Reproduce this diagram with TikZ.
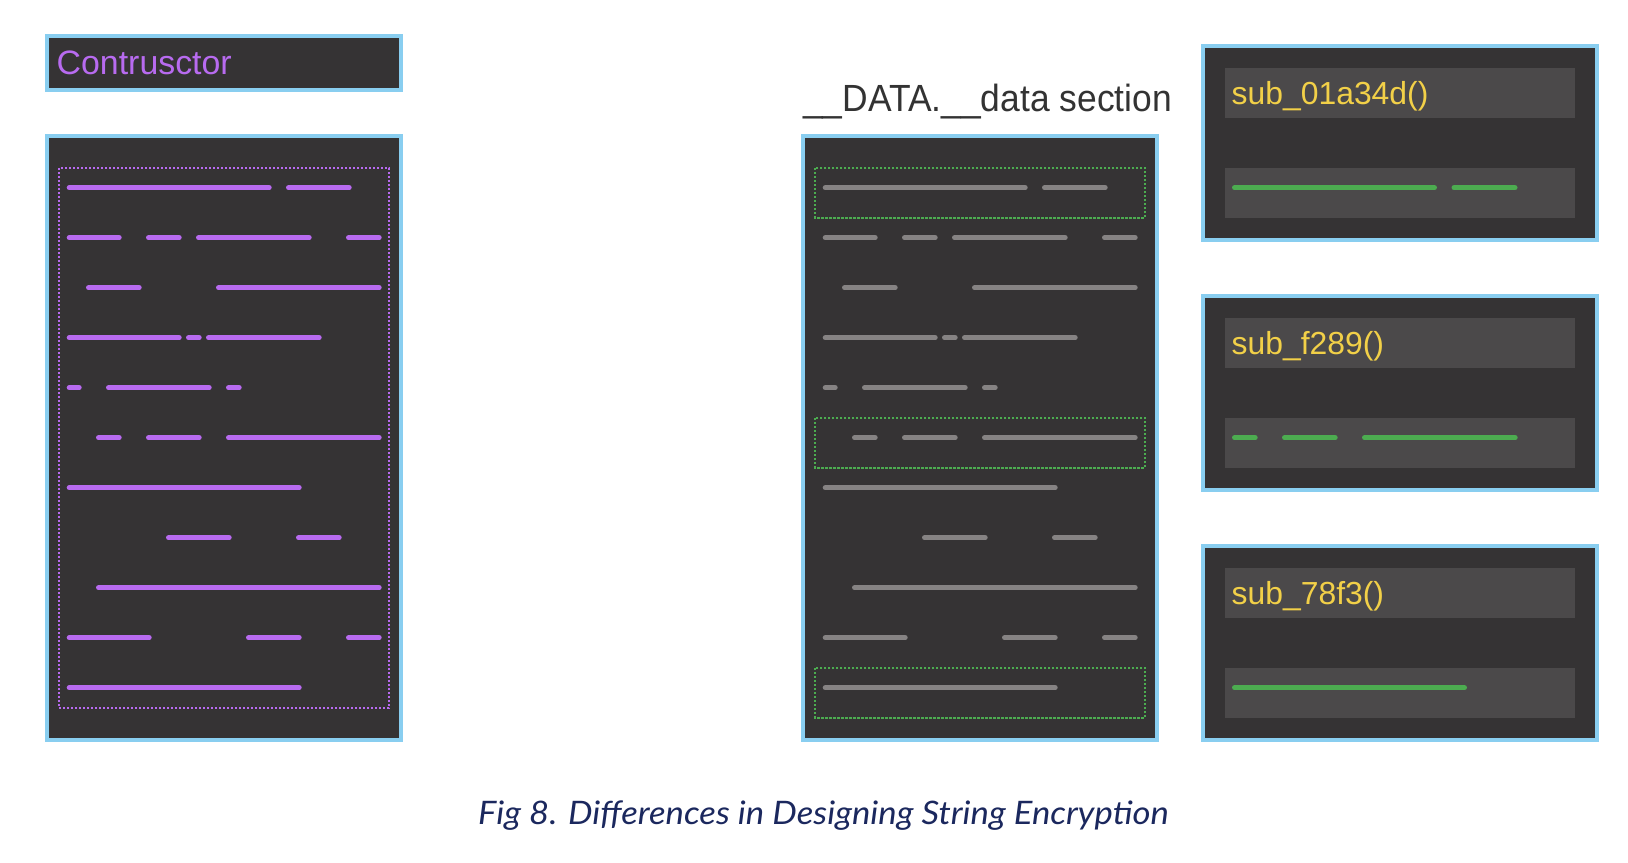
\documentclass[tikz,border=0pt]{standalone}
\usepackage{graphicx}
\usepackage{fontspec}
\setmainfont{Liberation Sans}
\newfontfamily\capfont{Lato}
\definecolor{skyb}{RGB}{137,206,240}
\definecolor{panelbg}{RGB}{53,51,52}
\definecolor{innerbg}{RGB}{75,73,74}
\definecolor{purp}{RGB}{184,107,240}
\definecolor{grayl}{RGB}{134,131,131}
\definecolor{greenl}{RGB}{76,172,80}
\definecolor{yell}{RGB}{242,208,72}
\definecolor{navy}{RGB}{27,40,94}
\definecolor{darktxt}{RGB}{51,51,51}
\begin{document}
\begin{tikzpicture}[x=1bp,y=-1bp,
  panel/.style={draw=skyb,line width=4bp,fill=panelbg},
  innerbox/.style={fill=innerbg},
  seg/.style={line width=5.3bp,line cap=round,shorten >=2.65bp,shorten <=2.65bp},
  pseg/.style={seg,draw=purp},
  gseg/.style={seg,draw=grayl},
  nseg/.style={seg,draw=greenl},
  pdash/.style={draw=purp,line width=1.8bp,dash pattern=on 2.2bp off 1.8bp},
  gdash/.style={draw=greenl,line width=1.8bp,dash pattern=on 2.2bp off 1.8bp},
  lbl/.style={inner sep=0pt,anchor=base west},
  subtxt/.style={lbl,text=yell,font=\fontsize{32}{38}\selectfont}]
\useasboundingbox[fill=white] (0,0) rectangle (1628,862);

% Constructor title box
\draw[panel] (47,36) rectangle (401,90);
\node[lbl,text=purp,font=\fontsize{34}{40}\selectfont] (ctor) at (56.5,74.3) {Contrusctor};

% left and middle panels
\draw[panel] (47,136) rectangle (401,739.7);
\draw[panel] (803,136) rectangle (1157,739.7);
\draw[pdash] (59,168) rectangle (389,708);
\draw[gdash] (815,168) rectangle (1145,217.7);
\draw[gdash] (815,418) rectangle (1145,467.7);
\draw[gdash] (815,668) rectangle (1145,717.7);

\def\allsegs{187.7/66.7/271.7, 187.7/286/351.7,
  237.7/66.7/121.7, 237.7/146/181.7, 237.7/196/311.7, 237.7/346/381.7,
  287.7/86/141.7, 287.7/216/381.7,
  337.7/66.7/181.7, 337.7/186/201.7, 337.7/206/321.7,
  387.7/66.7/81.7, 387.7/106/211.7, 387.7/226/241.7,
  437.7/96/121.7, 437.7/146/201.7, 437.7/226/381.7,
  487.7/66.7/301.7,
  537.7/166/231.7, 537.7/296/341.7,
  587.7/96/381.7,
  637.7/66.7/151.7, 637.7/246/301.7, 637.7/346/381.7,
  687.7/66.7/301.7}
\foreach \yy/\aa/\bb in \allsegs {
  \draw[pseg] (\aa,\yy) -- (\bb,\yy);
  \draw[gseg] (\aa+756,\yy) -- (\bb+756,\yy);
}

\node[inner sep=0pt,anchor=base,text=darktxt] (datasec) at (987.5,111.7)
  {\fontsize{38}{46}\selectfont\scalebox{0.935}[1]{\_\_DATA.\_\_data section}};

% right boxes
\draw[panel] (1203,46) rectangle (1597,239.7);
\fill[innerbox] (1225,68) rectangle (1575,117.7);
\fill[innerbox] (1225,167.7) rectangle (1575,217.7);
\node[subtxt] (s1) at (1231.5,104.7) {sub\_01a34d()};
\draw[nseg] (1232,187.7) -- (1437,187.7);
\draw[nseg] (1451.5,187.7) -- (1517.5,187.7);

\draw[panel] (1203,296) rectangle (1597,489.7);
\fill[innerbox] (1225,318) rectangle (1575,367.7);
\fill[innerbox] (1225,417.7) rectangle (1575,467.7);
\node[subtxt] (s2) at (1231.5,354.2) {sub\_f289()};
\draw[nseg] (1232,437.7) -- (1257.7,437.7);
\draw[nseg] (1282,437.7) -- (1337.7,437.7);
\draw[nseg] (1362,437.7) -- (1517.7,437.7);

\draw[panel] (1203,546) rectangle (1597,739.7);
\fill[innerbox] (1225,568) rectangle (1575,617.7);
\fill[innerbox] (1225,667.7) rectangle (1575,717.7);
\node[subtxt] (s3) at (1231.5,604.2) {sub\_78f3()};
\draw[nseg] (1232,687.7) -- (1467,687.7);

% caption
\node[inner sep=0pt,anchor=base,text=navy] (cap) at (823.5,824.3)
  {\capfont\itshape\fontsize{32.5}{38}\selectfont\scalebox{1.07}[1]{Fig 8. Differences in Designing String Encryption}};
\end{tikzpicture}
\end{document}
